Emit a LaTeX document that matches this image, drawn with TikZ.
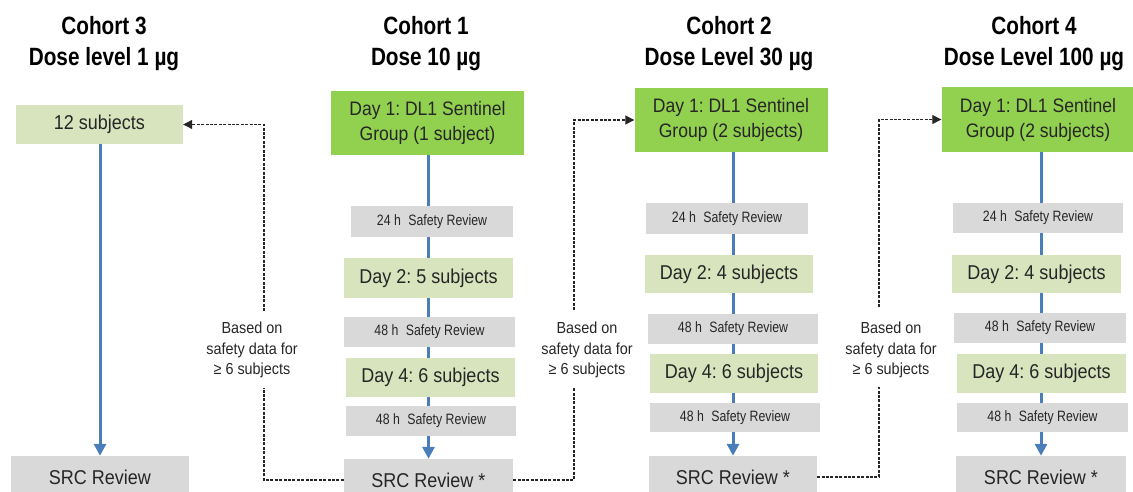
\documentclass[tikz,border=0pt]{standalone}
\usepackage{fontspec}
\setmainfont{Liberation Sans}[FakeStretch=0.9]
\newfontfamily\headfont{Liberation Sans}[FakeStretch=0.83]
\newfontfamily\narrowfont{Liberation Sans}[FakeStretch=0.82]
\frenchspacing
\usetikzlibrary{arrows.meta,backgrounds,positioning}
\definecolor{sentgreen}{HTML}{92D050}
\definecolor{daygreen}{HTML}{D7E4BD}
\definecolor{revgray}{HTML}{D9D9D9}
\definecolor{flowblue}{HTML}{4A7EBB}
\definecolor{inkgray}{HTML}{262626}
\tikzset{
	box/.style={inner sep=0pt, text=inkgray, align=center},
	sentinel/.style={box, fill=sentgreen, minimum width=193pt, minimum height=64pt, font=\fontsize{19.5}{25}\selectfont},
	daybox/.style={box, fill=daygreen, minimum width=169pt, minimum height=39pt, font=\fontsize{20}{24}\selectfont},
	review/.style={box, fill=revgray, minimum width=170pt, minimum height=30pt, font=\narrowfont\fontsize{15}{18}\selectfont},
	srcbox/.style={box, fill=revgray, minimum width=169pt, minimum height=42pt, font=\fontsize{20}{24}\selectfont},
	heading/.style={align=center, inner sep=0pt, text=black, anchor=base, font=\headfont\bfseries\fontsize{25}{31}\selectfont},
	note/.style={align=center, inner sep=0pt, text=inkgray, font=\fontsize{16}{20.5}\selectfont},
	flow/.style={draw=flowblue, line width=3pt},
	flowarrow/.style={flow, -{Triangle[length=12pt,width=12pt]}},
	link/.style={draw=black!85, line width=1.1pt, dash pattern=on 3pt off 1.4pt},
	linkarrow/.style={link, -{Triangle[length=9pt,width=9pt]}}
}

\begin{document}
\begin{tikzpicture}[x=1pt, y=-1pt]
	\useasboundingbox (0,0) rectangle (1133,492);

	\node[heading] (hd3) at (104,66) {Cohort 3\\Dose level 1 µg};
	\node[daybox, minimum width=167pt] (sub12) at (99.5,124.5) {12 subjects};
	\node[srcbox, minimum width=178pt] (src3) at (100,477) {SRC Review};

	\node[heading] (hd1) at (426,66) {Cohort 1\\Dose 10 µg};
	\node[sentinel] (sent1) at (427.5,123) {Day 1: DL1 Sentinel\\Group (1 subject)};
	\node[review, minimum width=162pt, minimum height=31pt] (rev1a) at (432,221.5) {24 h\enspace Safety Review};
	\node[daybox, minimum height=40pt] (day1a) at (428.5,278) {Day 2: 5 subjects};
	\node[review, minimum width=171pt] (rev1b) at (429.5,332) {48 h\enspace Safety Review};
	\node[daybox] (day1b) at (430.5,377.5) {Day 4: 6 subjects};
	\node[review] (rev1c) at (431,421) {48 h\enspace Safety Review};
	\node[srcbox] (src1) at (428.5,480) {SRC Review *};

	\node[heading] (hd2) at (729,66) {Cohort 2\\Dose Level 30 µg};
	\node[sentinel] (sent2) at (731,120) {Day 1: DL1 Sentinel\\Group (2 subjects)};
	\node[review, minimum width=162pt, minimum height=31pt] (rev2a) at (727,218.5) {24 h\enspace Safety Review};
	\node[daybox, minimum width=168pt, minimum height=38pt] (day2a) at (729,274) {Day 2: 4 subjects};
	\node[review] (rev2b) at (733,329) {48 h\enspace Safety Review};
	\node[daybox, minimum width=168pt] (day2b) at (734,373.5) {Day 4: 6 subjects};
	\node[review, minimum height=29pt] (rev2c) at (735,417.5) {48 h\enspace Safety Review};
	\node[srcbox, minimum width=168pt] (src2) at (733,477) {SRC Review *};

	\node[heading] (hd4) at (1034,66) {Cohort 4\\Dose Level 100 µg};
	\node[sentinel, minimum height=65pt] (sent4) at (1038,119.5) {Day 1: DL1 Sentinel\\Group (2 subjects)};
	\node[review] (rev4a) at (1038,218) {24 h\enspace Safety Review};
	\node[daybox, minimum height=38pt] (day4a) at (1036.5,274) {Day 2: 4 subjects};
	\node[review, minimum width=172pt] (rev4b) at (1040,328) {48 h\enspace Safety Review};
	\node[daybox] (day4b) at (1041.5,373.5) {Day 4: 6 subjects};
	\node[review, minimum width=171pt, minimum height=29pt] (rev4c) at (1042.5,417.5) {48 h\enspace Safety Review};
	\node[srcbox, minimum width=170pt] (src4) at (1041,477) {SRC Review *};

	\node[note] (noteA) at (252,350) {Based on\\safety data for\\≥ 6 subjects};
	\node[note] (noteB) at (587,350) {Based on\\safety data for\\≥ 6 subjects};
	\node[note] (noteC) at (891,350) {Based on\\safety data for\\≥ 6 subjects};

	\coordinate (linkAlo) at (264,388);
	\coordinate (linkAhi) at (264,311);
	\coordinate (linkBlo) at (574,388);
	\coordinate (linkBhi) at (574,310);
	\coordinate (linkClo) at (879,387);
	\coordinate (linkChi) at (879,307);

	\begin{scope}[on background layer]
		\foreach \c in {1,2,4}
			\draw[flowarrow] (sent\c.south -| src\c.north) -- (src\c.north);
		\draw[flowarrow] (sub12.south -| src3.north) -- (src3.north);
	\end{scope}

	\draw[link] (src1.west) -| (linkAlo);
	\draw[linkarrow] (linkAhi) |- (sub12.east);
	\draw[link] (src1.east) -| (linkBlo);
	\draw[linkarrow] (linkBhi) |- (sent2.west);
	\draw[link] (src2.east) -| (linkClo);
	\draw[linkarrow] (linkChi) |- (sent4.west);
\end{tikzpicture}
\end{document}
